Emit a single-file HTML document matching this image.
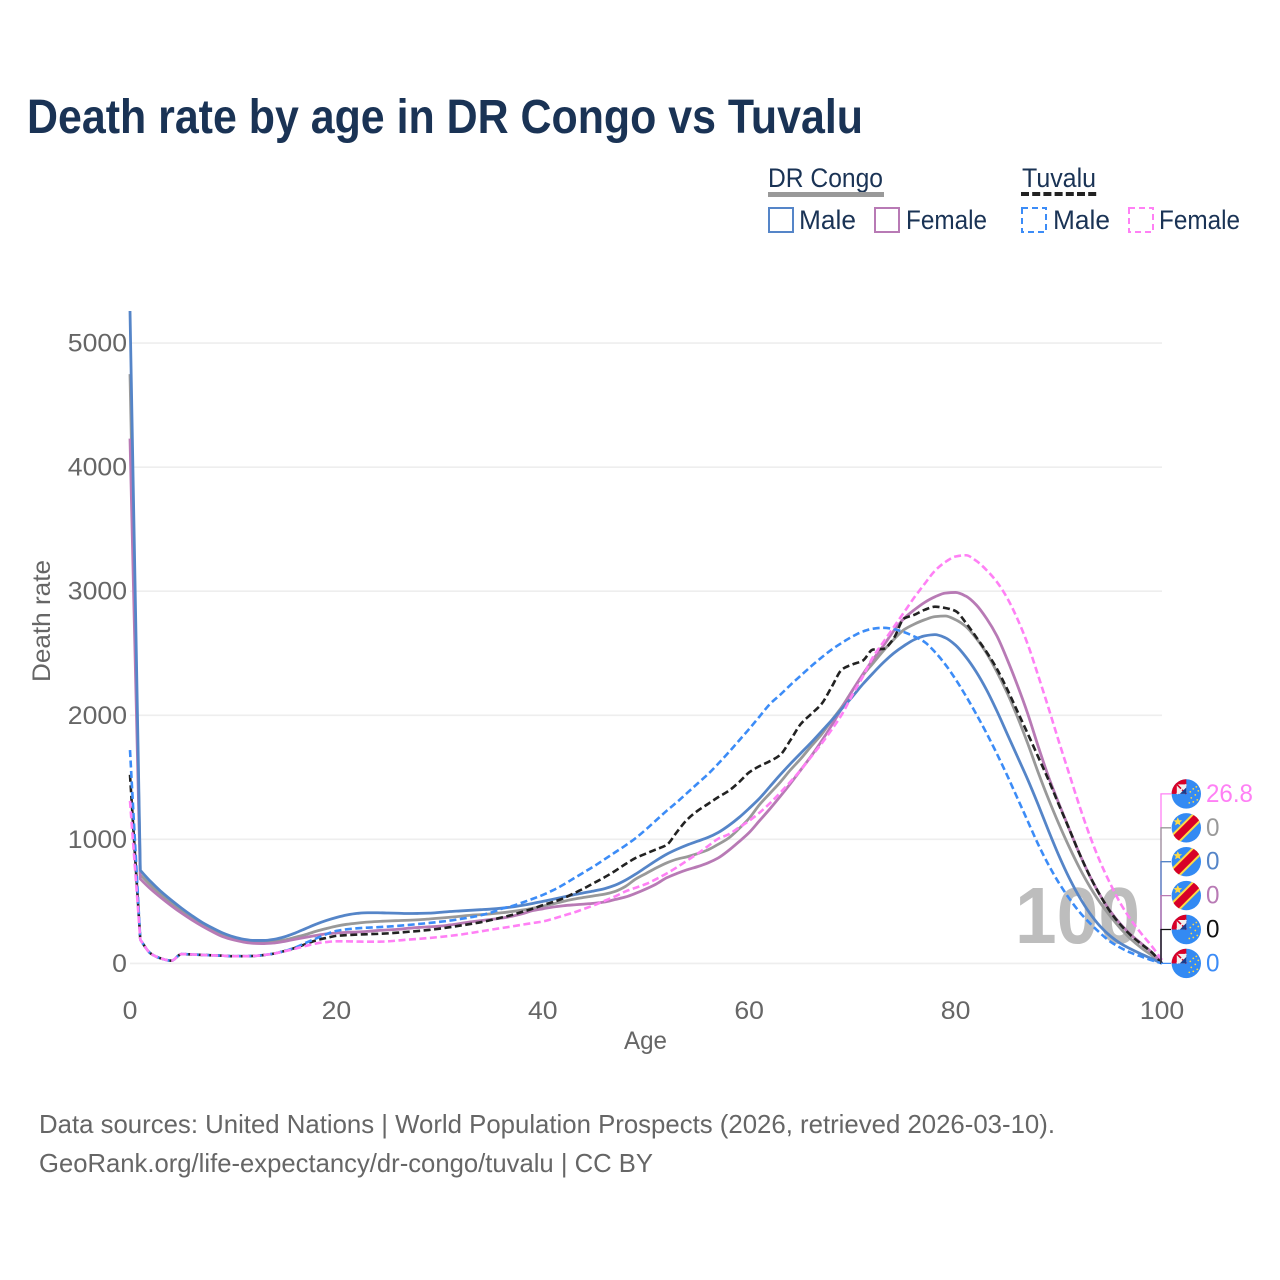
<!DOCTYPE html>
<html lang="en">
<head>
<meta charset="utf-8">
<title>Death rate by age in DR Congo vs Tuvalu</title>
<style>
  html, body { margin: 0; padding: 0; background: #fff; }
  #chart { display: block; width: 1280px; height: 1280px; font-family: "Liberation Sans", sans-serif; }
</style>
</head>
<body>
<svg id="chart" xmlns="http://www.w3.org/2000/svg" width="1280" height="1280" viewBox="0 0 1280 1280">
  <rect x="0" y="0" width="1280" height="1280" fill="#ffffff"/>
  <text x="27" y="133" font-size="48" font-weight="700" fill="#1a3355" textLength="836" lengthAdjust="spacingAndGlyphs">Death rate by age in DR Congo vs Tuvalu</text>

  <g font-size="27" fill="#1a3355">
    <text x="768" y="187" textLength="115" lengthAdjust="spacingAndGlyphs">DR Congo</text>
    <rect x="768" y="192" width="116" height="5" fill="#999999"/>
    <text x="1022" y="187" textLength="74" lengthAdjust="spacingAndGlyphs">Tuvalu</text>
    <line x1="1021" y1="194" x2="1097" y2="194" stroke="#222222" stroke-width="4" stroke-dasharray="8 3.2"/>

    <rect x="769" y="208" width="24" height="24" fill="none" stroke="#5585c8" stroke-width="2"/>
    <text x="799" y="229" textLength="57" lengthAdjust="spacingAndGlyphs">Male</text>
    <rect x="875" y="208" width="24" height="24" fill="none" stroke="#b87ab5" stroke-width="2"/>
    <text x="906" y="229" textLength="81" lengthAdjust="spacingAndGlyphs">Female</text>
    <rect x="1022" y="208" width="24" height="24" fill="none" stroke="#3c8cf7" stroke-width="2" stroke-dasharray="6 4"/>
    <text x="1053" y="229" textLength="57" lengthAdjust="spacingAndGlyphs">Male</text>
    <rect x="1129" y="208" width="24" height="24" fill="none" stroke="#ff80f5" stroke-width="2" stroke-dasharray="6 4"/>
    <text x="1159" y="229" textLength="81" lengthAdjust="spacingAndGlyphs">Female</text>
  </g>

  <defs>
    <clipPath id="plot-clip"><rect x="110" y="311" width="1060" height="700"/></clipPath>
  </defs>
  <g id="grid"></g>
  <g id="axes"></g>
  <text x="1015" y="943" font-size="80" font-weight="700" fill="#bdbdbd" textLength="125" lengthAdjust="spacingAndGlyphs">100</text>
  <g id="series" clip-path="url(#plot-clip)"></g>
  <g id="end-labels"></g>

  <text transform="translate(50 682) rotate(-90)" x="0" y="0" font-size="25" fill="#666666" textLength="122" lengthAdjust="spacingAndGlyphs">Death rate</text>
  <text x="624" y="1049" font-size="25" fill="#666666" textLength="43" lengthAdjust="spacingAndGlyphs">Age</text>

  <text x="39" y="1133" font-size="26" fill="#666666" textLength="1016" lengthAdjust="spacingAndGlyphs">Data sources: United Nations | World Population Prospects (2026, retrieved 2026-03-10).</text>
  <text x="39" y="1172" font-size="26" fill="#666666" textLength="614" lengthAdjust="spacingAndGlyphs">GeoRank.org/life-expectancy/dr-congo/tuvalu | CC BY</text>
</svg>

<script>
const xTicks = [0, 20, 40, 60, 80, 100];
const yTicks = [0, 1000, 2000, 3000, 4000, 5000];

const drCongoBoth = [
  4750,715,630,555,485,425,365,315,270,232,
  205,185,175,172,178,190,210,232,258,280,
  300,315,325,333,338,342,345,348,352,358,
  365,372,380,388,393,400,408,418,430,445,
  462,480,500,518,532,545,558,580,620,680,
  725,770,810,840,860,885,915,960,1010,1085,
  1170,1280,1370,1460,1560,1650,1750,1845,1960,2070,
  2200,2320,2420,2520,2610,2690,2735,2770,2795,2800,
  2770,2715,2620,2500,2350,2180,1985,1770,1540,1325,
  1125,940,770,620,490,380,280,195,125,65,0
];
const drCongoFemale = [
  4230,680,600,530,465,405,350,300,255,215,
  190,172,162,160,165,178,195,210,225,238,
  245,250,253,258,265,270,275,283,290,295,
  300,310,322,335,345,355,365,380,400,425,
  440,455,465,472,478,485,495,515,535,565,
  600,640,690,725,755,780,810,850,910,980,
  1055,1150,1245,1345,1450,1560,1670,1790,1920,2060,
  2200,2330,2450,2560,2680,2780,2850,2910,2955,2985,
  2990,2960,2890,2780,2640,2450,2240,2010,1750,1505,
  1290,1085,885,705,550,420,315,230,160,90,0
];
const drCongoMale = [
  5260,750,660,580,510,445,385,330,285,245,
  215,195,185,185,195,215,245,280,315,345,
  370,390,403,408,408,406,404,402,403,405,
  411,418,423,428,433,438,445,455,468,483,
  500,517,535,553,570,585,603,630,670,720,
  775,830,880,920,955,985,1015,1055,1110,1175,
  1250,1330,1425,1520,1610,1695,1780,1870,1960,2055,
  2150,2250,2340,2425,2500,2560,2610,2640,2650,2625,
  2565,2470,2350,2205,2035,1850,1665,1480,1280,1070,
  870,690,535,405,300,220,160,115,75,38,0
];
const tuvaluBoth = [
  1520,190,80,40,22,75,72,68,65,62,
  58,58,60,68,80,100,125,155,185,205,
  222,228,232,235,238,242,248,255,262,270,
  280,292,305,318,332,350,370,390,415,440,
  470,495,525,565,605,650,695,745,800,850,
  885,920,955,1060,1160,1230,1285,1340,1390,1460,
  1540,1590,1630,1680,1800,1930,2010,2090,2230,2370,
  2410,2440,2530,2535,2620,2780,2810,2850,2875,2865,
  2840,2745,2630,2510,2375,2210,2030,1850,1665,1480,
  1280,1085,885,705,550,415,310,225,155,90,0
];
const tuvaluMale = [
  1720,190,80,40,22,75,72,68,65,62,
  58,58,60,68,80,100,128,165,200,235,
  262,275,283,288,292,297,303,310,318,326,
  335,345,358,372,388,410,440,462,490,520,
  552,590,635,685,735,785,840,895,950,1010,
  1080,1155,1230,1300,1375,1450,1525,1610,1700,1795,
  1890,1990,2090,2165,2245,2320,2395,2465,2530,2585,
  2635,2675,2698,2705,2695,2670,2635,2590,2510,2410,
  2290,2155,2010,1855,1690,1515,1330,1145,960,795,
  650,525,415,325,245,175,125,85,55,25,0
];
const tuvaluFemale = [
  1310,190,80,40,22,75,72,68,65,62,
  58,58,60,68,80,98,118,140,160,172,
  178,178,176,175,175,178,185,192,198,205,
  213,222,232,245,258,272,285,298,312,325,
  338,360,385,410,440,470,505,540,580,610,
  640,680,725,775,830,885,945,1005,1040,1095,
  1150,1215,1290,1375,1465,1560,1665,1770,1885,2010,
  2165,2310,2470,2590,2710,2830,2950,3060,3165,3235,
  3280,3290,3245,3170,3075,2945,2775,2570,2320,2060,
  1790,1530,1270,1030,820,640,480,350,240,140,26.8
];

const NS = 'http://www.w3.org/2000/svg';
const xScale = function (age) { return 130 + age * 10.32; };
const yScale = function (v) { return 963.4 - v * 0.12406; };

function make(tag, attrs, parent) {
  const n = document.createElementNS(NS, tag);
  Object.keys(attrs).forEach(function (k) { n.setAttribute(k, attrs[k]); });
  parent.appendChild(n);
  return n;
}

/* Straight spike from age 0 to age 1, then a monotone cubic through the remaining points. */
function seriesPath(xs, ys) {
  const n = xs.length;
  const seg = [];
  for (let i = 0; i < n - 1; i++) {
    seg.push((ys[i + 1] - ys[i]) / (xs[i + 1] - xs[i]));
  }
  const tan = [seg[0], seg[1]];
  for (let i = 2; i < n - 1; i++) {
    if (seg[i - 1] * seg[i] <= 0) {
      tan.push(0);
    } else {
      tan.push(2 * seg[i - 1] * seg[i] / (seg[i - 1] + seg[i]));
    }
  }
  tan.push(seg[n - 2]);
  let d = 'M' + xs[0].toFixed(2) + ' ' + ys[0].toFixed(2) + ' L' + xs[1].toFixed(2) + ' ' + ys[1].toFixed(2);
  for (let i = 1; i < n - 1; i++) {
    const h = (xs[i + 1] - xs[i]) / 3;
    d += ' C' + (xs[i] + h).toFixed(2) + ' ' + (ys[i] + tan[i] * h).toFixed(2) +
         ' ' + (xs[i + 1] - h).toFixed(2) + ' ' + (ys[i + 1] - tan[i + 1] * h).toFixed(2) +
         ' ' + xs[i + 1].toFixed(2) + ' ' + ys[i + 1].toFixed(2);
  }
  return d;
}

const gridG = document.getElementById('grid');
const axesG = document.getElementById('axes');
const seriesG = document.getElementById('series');
const endG = document.getElementById('end-labels');

yTicks.forEach(function (t) {
  const line = make('line', { x1: 130, x2: 1162, y1: yScale(t), y2: yScale(t), stroke: '#eeeeee', 'stroke-width': 1.6 }, gridG);
  
  
  const lab = make('text', { x: 127, y: yScale(t) + 8.5, 'text-anchor': 'end', 'font-size': 25, fill: '#666666', textLength: String(t).length * 14.8, lengthAdjust: 'spacingAndGlyphs' }, axesG);
  lab.textContent = t;
  
  
});

xTicks.forEach(function (t) {
  const lab = make('text', { x: xScale(t), y: 1019, 'text-anchor': 'middle', 'font-size': 25, fill: '#666666', textLength: String(t).length * 14.8, lengthAdjust: 'spacingAndGlyphs' }, axesG);
  lab.textContent = t;
  
  
});

const drawOrder = [
  { key: 'dr-congo-both', values: drCongoBoth, color: '#999999', dash: '' },
  { key: 'dr-congo-female', values: drCongoFemale, color: '#b87ab5', dash: '' },
  { key: 'dr-congo-male', values: drCongoMale, color: '#5585c8', dash: '' },
  { key: 'tuvalu-both', values: tuvaluBoth, color: '#222222', dash: '7 3.5' },
  { key: 'tuvalu-male', values: tuvaluMale, color: '#3c8cf7', dash: '7 3.5' },
  { key: 'tuvalu-female', values: tuvaluFemale, color: '#ff80f5', dash: '7 3.5' }
];

drawOrder.forEach(function (s) {
  const xs = s.values.map(function (v, age) { return xScale(age); });
  const ys = s.values.map(function (v) { return yScale(v); });
  const path = make('path', { d: seriesPath(xs, ys), fill: 'none', stroke: s.color, 'stroke-width': s.dash ? 2.6 : 2.8, 'stroke-linejoin': 'round' }, seriesG);
  if (s.dash) { path.setAttribute('stroke-dasharray', s.dash); }
  
  
});

function drawFlag(parent, cx, cy, country, idx) {
  const g = make('g', {}, parent);
  
  
  const clipId = 'flag-clip-' + idx;
  const clip = make('clipPath', { id: clipId }, g);
  make('circle', { cx: cx, cy: cy, r: 14.7 }, clip);
  const inner = make('g', { 'clip-path': 'url(#' + clipId + ')' }, g);
  make('rect', { x: cx - 16, y: cy - 16, width: 32, height: 32, fill: '#338af3' }, inner);
  if (country === 'dr-congo') {
    make('line', { x1: cx - 16, y1: cy + 16, x2: cx + 16, y2: cy - 16, stroke: '#ffda44', 'stroke-width': 11.5 }, inner);
    make('line', { x1: cx - 16, y1: cy + 16, x2: cx + 16, y2: cy - 16, stroke: '#d80027', 'stroke-width': 7.5 }, inner);
    make('polygon', {
      points: [
        [cx - 8.5, cy - 10.5], [cx - 7.2, cy - 7.6], [cx - 4.2, cy - 7.4], [cx - 6.5, cy - 5.4],
        [cx - 5.8, cy - 2.4], [cx - 8.5, cy - 4], [cx - 11.2, cy - 2.4], [cx - 10.5, cy - 5.4],
        [cx - 12.8, cy - 7.4], [cx - 9.8, cy - 7.6]
      ].join(' '),
      fill: '#ffda44'
    }, inner);
  } else {
    make('rect', { x: cx - 16, y: cy - 16, width: 16, height: 16, fill: '#d80027' }, inner);
    make('rect', { x: cx - 9.5, y: cy - 9.5, width: 9.5, height: 9.5, fill: '#f0f0f0' }, inner);
    make('line', { x1: cx - 9.5, y1: cy - 9.5, x2: cx, y2: cy, stroke: '#d80027', 'stroke-width': 1.6 }, inner);
    make('polygon', { points: [[cx - 6.5, cy], [cx, cy], [cx, cy - 6.5]].join(' '), fill: '#1a3f8f' }, inner);
    make('line', { x1: cx - 9.5, y1: cy, x2: cx, y2: cy - 9.5, stroke: '#f0f0f0', 'stroke-width': 1.6 }, inner);
    const dots = [[3, 9], [7, 8], [11, 6], [5, 4], [9, 1], [12, -3], [4, -2], [10, -7], [7, -5]];
    dots.forEach(function (p) {
      make('circle', { cx: cx + p[0], cy: cy + p[1], r: 0.9, fill: '#ffda44' }, inner);
    });
  }
}

const labelOrder = [
  { key: 'tuvalu-female', values: tuvaluFemale, color: '#ff80f5', country: 'tuvalu' },
  { key: 'dr-congo-both', values: drCongoBoth, color: '#999999', country: 'dr-congo' },
  { key: 'dr-congo-male', values: drCongoMale, color: '#5585c8', country: 'dr-congo' },
  { key: 'dr-congo-female', values: drCongoFemale, color: '#b87ab5', country: 'dr-congo' },
  { key: 'tuvalu-both', values: tuvaluBoth, color: '#111111', country: 'tuvalu' },
  { key: 'tuvalu-male', values: tuvaluMale, color: '#3c8cf7', country: 'tuvalu' }
];

labelOrder.forEach(function (s, i) {
  const slotY = 963.4 - (labelOrder.length - 1 - i) * 33.9;
  const last = s.values[s.values.length - 1];
  const conn = make('path', {
    d: 'M' + xScale(100) + ' ' + yScale(last) + ' L1161 ' + yScale(last) + ' L1161 ' + slotY + ' L1171 ' + slotY,
    fill: 'none', stroke: s.color, 'stroke-width': 1.3
  }, endG);
  
  
  drawFlag(endG, 1186.3, slotY, s.country, i);
  const text = String(last);
  const lab = make('text', { x: 1206, y: slotY + 8, 'font-size': 25, fill: s.color, textLength: text.length === 1 ? 13.5 : 47, lengthAdjust: 'spacingAndGlyphs' }, endG);
  lab.textContent = text;
  
  
});
</script>
</body>
</html>
